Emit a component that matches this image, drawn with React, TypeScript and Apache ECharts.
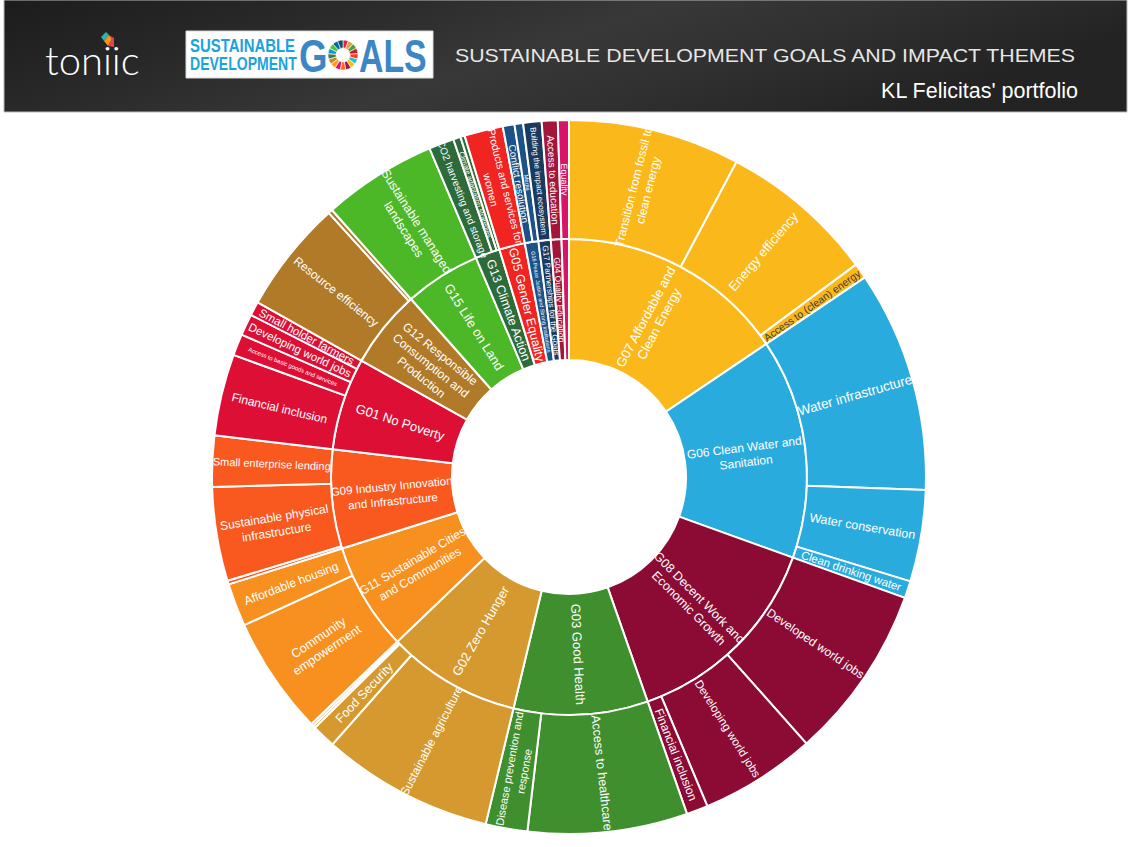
import React, { useEffect, useRef } from 'react';
import * as echarts from 'echarts';

// ---------- data ----------
const goalNames = [
  'G07 Affordable and\nClean Energy',
  'G06 Clean Water and\nSanitation',
  'G08 Decent Work and\nEconomic Growth',
  'G03 Good Health',
  'G02 Zero Hunger',
  'G11 Sustainable Cities\nand Communities',
  'G09 Industry Innovation\nand Infrastructure',
  'G01 No Poverty',
  'G12 Responsible\nConsumption and\nProduction',
  'G15 Life on Land',
  'G13 Climate Action',
  'G05 Gender Equality',
  'G16 Peace Justice and Strong Institutions',
  'G17 Partnerships for the Goals',
  'G04 Quality Education',
  'G10 Reduced Inequalities',
];

const goalColors = [
  '#FBB81A', '#2AABDD', '#8C0B35', '#3F8F2E', '#D5992F', '#F8901F', '#F9581F', '#DD0F35',
  '#B07A28', '#4DB827', '#2E6B3A', '#F02421', '#1B5287', '#1A3B5F', '#A3153A', '#D8136A',
];

const themeNames: string[][] = [
  ['Transition from fossil to\nclean energy', 'Energy efficiency', 'Access to (clean) energy'],
  ['Water infrastructure', 'Water conservation', 'Clean drinking water'],
  ['Developed world jobs', 'Developing world jobs', 'Financial inclusion'],
  ['Access to healthcare', 'Disease prevention and\nresponse'],
  ['Sustainable agriculture', 'Food Security', '', ''],
  ['Community\nempowerment', 'Affordable housing'],
  ['', 'Sustainable physical\ninfrastructure', 'Small enterprise lending'],
  ['Financial inclusion', 'Access to basic goods and services', 'Developing world jobs', 'Small holder farmers'],
  ['Resource efficiency', ''],
  ['Sustainable managed\nlandscapes'],
  ['CO2 harvesting and storage', 'Climate adaptation strategies', ''],
  ['Products and services for\nwomen'],
  ['Conflict resolution', 'Media'],
  ['Building the impact ecosystem'],
  ['Access to education'],
  ['Equality'],
];

const themeValues: number[][] = [
  [28, 25.5, 2.5],
  [36.1, 14.9, 2.8],
  [28.5, 18.9, 3.5],
  [26, 6.8],
  [28, 3.9, 0.4, 0.4],
  [19.3, 7],
  [0.6, 15.3, 8.3],
  [13.3, 3.5, 3.5, 2.3],
  [18.4, 0.7],
  [18.6],
  [4.1, 1.2, 0.7],
  [6.3],
  [1.9, 1.4],
  [3.0],
  [2.6],
  [1.8],
];

const sdgWheelColors = [
  '#E5243B', '#DDA63A', '#4C9F38', '#C5192D', '#FF3A21', '#26BDE2', '#FCC30B', '#A21942', '#FD6925',
  '#DD1367', '#FD9D24', '#BF8B2E', '#3F7E44', '#0A97D9', '#56C02B', '#00689D', '#19486A',
];

// ---------- label styles ----------
const labelSize: Record<string, number> = {
  'G07 Affordable and\nClean Energy': 13,
  'G06 Clean Water and\nSanitation': 12,
  'G08 Decent Work and\nEconomic Growth': 12.5,
  'G03 Good Health': 13,
  'G02 Zero Hunger': 13,
  'G11 Sustainable Cities\nand Communities': 12,
  'G09 Industry Innovation\nand Infrastructure': 11.5,
  'G01 No Poverty': 13,
  'G12 Responsible\nConsumption and\nProduction': 12,
  'G15 Life on Land': 13,
  'G13 Climate Action': 12.5,
  'G05 Gender Equality': 12.5,
  'G16 Peace Justice and Strong Institutions': 5.5,
  'G17 Partnerships for the Goals': 8,
  'G04 Quality Education': 8.5,
  'Transition from fossil to\nclean energy': 12,
  'Energy efficiency': 13,
  'Access to (clean) energy': 10.5,
  'Water infrastructure': 13.5,
  'Water conservation': 12.5,
  'Clean drinking water': 11.5,
  'Developed world jobs': 12,
  'Developing world jobs': 11.5,
  'Financial inclusion': 12,
  'Access to healthcare': 12.5,
  'Disease prevention and\nresponse': 11,
  'Sustainable agriculture': 12,
  'Food Security': 12.5,
  'Community\nempowerment': 12.5,
  'Affordable housing': 12,
  'Sustainable physical\ninfrastructure': 12,
  'Small enterprise lending': 11,
  'Access to basic goods and services': 6,
  'Small holder farmers': 11.5,
  'Resource efficiency': 12,
  'Sustainable managed\nlandscapes': 12.5,
  'CO2 harvesting and storage': 10,
  'Climate adaptation strategies': 7,
  'Products and services for\nwomen': 10.5,
  'Conflict resolution': 10,
  'Media': 6,
  'Building the impact ecosystem': 8,
  'Access to education': 10,
  'Equality': 9,
};
const darkLabels = ['Access to (clean) energy'];
const hiddenLabels = ['G10 Reduced Inequalities'];

const FONT = 'Liberation Sans, Arial, Helvetica, sans-serif';

export default function App() {
  const ref = useRef<HTMLDivElement>(null);

  useEffect(() => {
    document.body.style.margin = '0';
    if (!ref.current) return;
    const chart = echarts.init(ref.current, undefined, { renderer: 'svg' });

    const data = goalNames.map((g, i) => ({
      name: g,
      itemStyle: { color: goalColors[i] },
      label: hiddenLabels.includes(g)
        ? { show: false }
        : { fontSize: labelSize[g] ?? 12, color: '#fff' },
      children: themeNames[i].map((t, j) => ({
        name: t,
        value: themeValues[i][j],
        itemStyle: { color: goalColors[i] },
        label: t
          ? { fontSize: labelSize[t] ?? 12, color: darkLabels.includes(t) ? '#3a3a3a' : '#fff' }
          : { show: false },
      })),
    }));

    const wheel: any[] = sdgWheelColors.map((c, k) => {
      const a0 = -Math.PI / 2 + (k * 2 * Math.PI) / 17;
      const a1 = a0 + (2 * Math.PI) / 17;
      return {
        type: 'sector',
        shape: { cx: 343, cy: 55, r: 15, r0: 7, startAngle: a0, endAngle: a1, clockwise: true },
        style: { fill: c, stroke: '#fff', lineWidth: 0.6 },
        z: 12,
      };
    });

    const graphic: any[] = [
      {
        type: 'rect',
        shape: { x: 4, y: 0, width: 1123, height: 112 },
        style: {
          fill: {
            type: 'linear', x: 0, y: 0, x2: 1, y2: 0.3,
            colorStops: [
              { offset: 0, color: '#1c1c1c' },
              { offset: 0.3, color: '#2a2a2a' },
              { offset: 0.55, color: '#383838' },
              { offset: 0.75, color: '#303030' },
              { offset: 1, color: '#232323' },
            ],
          },
          stroke: '#b8b8b8',
          lineWidth: 1,
        },
        z: 1,
      },
      {
        type: 'text',
        x: 45, y: 60,
        style: { text: 'toniic', fill: '#ffffff', font: '300 40px Lato, "Open Sans", sans-serif', textVerticalAlign: 'middle' },
        z: 10,
      },
      { type: 'polygon', shape: { points: [[101, 37], [106, 32], [109, 35], [104, 41]] }, style: { fill: '#2CB5B0' }, z: 11 },
      { type: 'polygon', shape: { points: [[104, 41], [109, 35], [112, 39], [108, 46]] }, style: { fill: '#F7941D' }, z: 11 },
      { type: 'polygon', shape: { points: [[109, 35], [114, 38], [114, 47], [108, 46], [112, 39]] }, style: { fill: '#E8434B' }, z: 11 },
      {
        type: 'rect',
        shape: { x: 186, y: 31, width: 247, height: 47 },
        style: { fill: '#ffffff', stroke: '#d8d8d8', lineWidth: 1 },
        z: 10,
      },
      {
        type: 'text', x: 190, y: 46, scaleX: 0.83,
        style: { text: 'SUSTAINABLE', fill: '#1BA3DC', font: 'bold 18px ' + FONT, textVerticalAlign: 'middle' },
        z: 12,
      },
      {
        type: 'text', x: 190, y: 63, scaleX: 0.78,
        style: { text: 'DEVELOPMENT', fill: '#1BA3DC', font: 'bold 18px ' + FONT, textVerticalAlign: 'middle' },
        z: 12,
      },
      {
        type: 'text', x: 299, y: 56, scaleX: 0.78,
        style: { text: 'G', fill: '#3D86C6', font: 'bold 47px ' + FONT, textVerticalAlign: 'middle' },
        z: 12,
      },
      ...wheel,
      {
        type: 'text', x: 359, y: 56, scaleX: 0.72,
        style: { text: 'ALS', fill: '#3D86C6', font: 'bold 47px ' + FONT, textVerticalAlign: 'middle' },
        z: 12,
      },
      {
        type: 'text', x: 455, y: 55, scaleX: 1.123,
        style: { text: 'SUSTAINABLE DEVELOPMENT GOALS AND IMPACT THEMES', fill: '#e6e6e6', font: '19px ' + FONT, textVerticalAlign: 'middle' },
        z: 10,
      },
      {
        type: 'text', x: 1078, y: 91,
        style: { text: "KL Felicitas' portfolio", fill: '#ffffff', font: '21.5px ' + FONT, textAlign: 'right', textVerticalAlign: 'middle' },
        z: 10,
      },
    ];

    chart.setOption({
      animation: false,
      backgroundColor: '#ffffff',
      graphic,
      series: [
        {
          type: 'sunburst',
          center: [569, 477],
          startAngle: 90,
          sort: null,
          nodeClick: false,
          data,
          itemStyle: { borderColor: '#ffffff', borderWidth: 2 },
          label: { rotate: 'radial', color: '#fff', fontFamily: FONT, minAngle: 0 },
          emphasis: { focus: 'none' },
          levels: [
            {},
            { r0: 117, r: 238, label: { lineHeight: 15 } },
            { r0: 238, r: 357, label: { lineHeight: 15 } },
          ],
        },
      ],
    });

    return () => chart.dispose();
  }, []);

  return <div ref={ref} style={{ width: 1131, height: 847 }} />;
}
